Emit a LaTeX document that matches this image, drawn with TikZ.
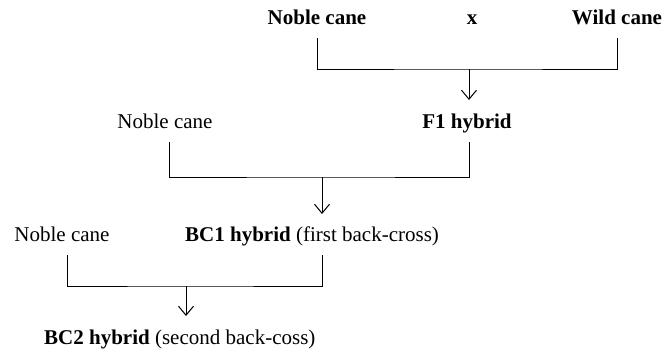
\documentclass[tikz,border=0pt]{standalone}
\usepackage{fontspec}
\setmainfont{Liberation Serif}
\usetikzlibrary{arrows.meta}

\begin{document}
\begin{tikzpicture}[x=1pt,y=-1pt,
  lbl/.style={inner sep=0pt,font=\fontsize{21}{25}\selectfont},
  link/.style={line width=1pt,line cap=rect},
  down/.style={line width=1pt,-{Straight Barb[length=9pt,width=15pt,line width=1pt]}}]
  \useasboundingbox (0,0) rectangle (664,349);

  % first cross: noble x wild
  \node[lbl,anchor=base] (nobleA) at (317,24) {\textbf{Noble cane}};
  \node[lbl,anchor=base] (cross)  at (472,24) {\textbf{x}};
  \node[lbl,anchor=base] (wild)   at (617,24) {\textbf{Wild cane}};
  \node[lbl,anchor=base] (fone)   at (467,128) {\textbf{F1 hybrid}};

  % first back-cross
  \node[lbl,anchor=base] (nobleB) at (165,128) {Noble cane};
  \node[lbl,anchor=base west] (bcone) at (185,241) {\textbf{BC1 hybrid} (first back-cross)};

  % second back-cross
  \node[lbl,anchor=base] (nobleC) at (62,241) {Noble cane};
  \node[lbl,anchor=base west] (bctwo) at (44,344) {\textbf{BC2 hybrid} (second back-coss)};

  % bracket 1
  \coordinate (a1) at (317,38);
  \coordinate (b1) at (617,38);
  \coordinate (j1) at (469,69);
  \coordinate (t1) at (469,100);
  \draw[link] (a1) |- (j1) -| (b1);
  \draw[down] (j1) -- (t1);

  % bracket 2
  \coordinate (a2) at (169,142);
  \coordinate (b2) at (469,142);
  \coordinate (j2) at (322,177);
  \coordinate (t2) at (322,214);
  \draw[link] (a2) |- (j2) -| (b2);
  \draw[down] (j2) -- (t2);

  % bracket 3
  \coordinate (a3) at (67,255);
  \coordinate (b3) at (322,255);
  \coordinate (j3) at (186,286);
  \coordinate (t3) at (186,316);
  \draw[link] (a3) |- (j3) -| (b3);
  \draw[down] (j3) -- (t3);
\end{tikzpicture}
\end{document}
